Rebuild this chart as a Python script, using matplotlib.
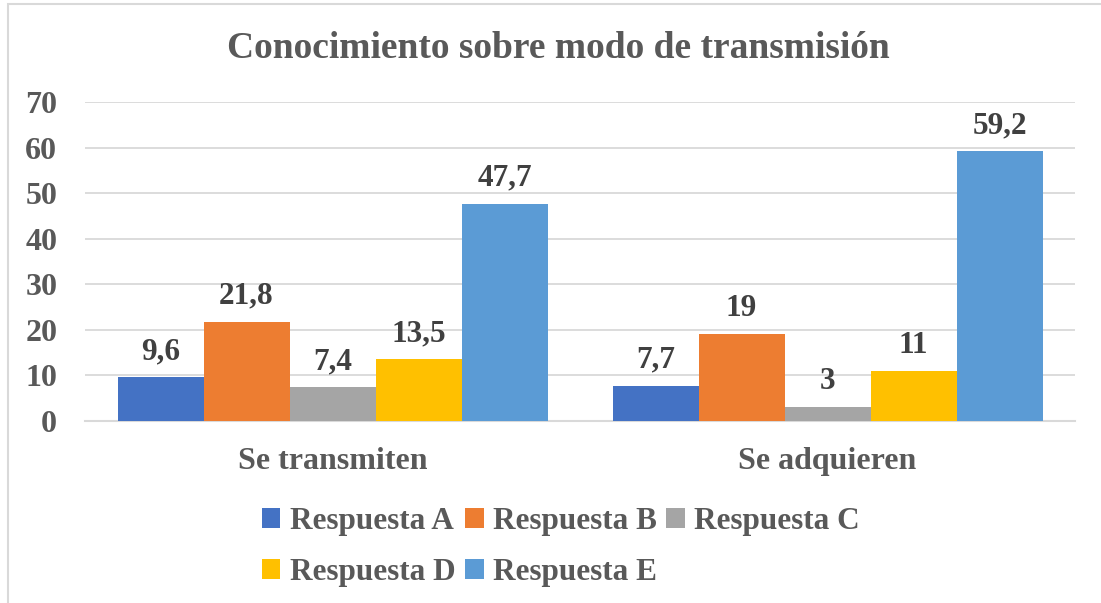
import matplotlib
matplotlib.use("Agg")
import matplotlib.pyplot as plt
from matplotlib.patches import Rectangle, Patch
import numpy as np

categories = ["Se transmiten", "Se adquieren"]
series_names = ["Respuesta A", "Respuesta B", "Respuesta C", "Respuesta D", "Respuesta E"]
resp_a = [9.6, 7.7]
resp_b = [21.8, 19]
resp_c = [7.4, 3]
resp_d = [13.5, 11]
resp_e = [47.7, 59.2]
label_a = ["9,6", "7,7"]
label_b = ["21,8", "19"]
label_c = ["7,4", "3"]
label_d = ["13,5", "11"]
label_e = ["47,7", "59,2"]
yticks = [0, 10, 20, 30, 40, 50, 60, 70]
title = "Conocimiento sobre modo de transmisión"

colors = ["#4472C4", "#ED7D31", "#A5A5A5", "#FFC000", "#5B9BD5"]
values = [resp_a, resp_b, resp_c, resp_d, resp_e]
labels = [label_a, label_b, label_c, label_d, label_e]

plt.rcParams['font.family'] = ['Liberation Serif', 'DejaVu Serif']
plt.rcParams['font.weight'] = 'bold'

W, H = 1101, 603
fig = plt.figure(figsize=(W / 100, H / 100), dpi=100)
ax = fig.add_axes([85 / W, 1 - 421 / H, (1075 - 85) / W, (421 - 102) / H])

# chart border
fig.patches.append(Rectangle((8 / W, -0.1), 1.2, 1 - 4 / H + 0.1, transform=fig.transFigure,
                             fill=False, edgecolor="#D9D9D9", linewidth=1.5, zorder=0))

x = np.arange(len(categories))
n = len(series_names)
bw = 430 / 495 / n
text_col = "#595959"
lab_col = "#404040"
for i, (name, vals, labs, c) in enumerate(zip(series_names, values, labels, colors)):
    pos = x - 430 / 495 / 2 + bw * (i + 0.5)
    bars = ax.bar(pos, vals, width=bw, color=c, label=name, zorder=3)
    ax.bar_label(bars, labels=labs, padding=8, fontsize=22.5, fontweight='bold', color=lab_col)

ax.set_xlim(-0.5, 1.5)
ax.set_ylim(0, 70)
ax.set_yticks(yticks)
ax.set_yticklabels([str(v) for v in yticks])
ax.set_xticks(x)
ax.set_xticklabels(categories)
ax.tick_params(axis='y', length=0, pad=20, labelsize=23, labelcolor=text_col)
ax.tick_params(axis='x', length=0, pad=19, labelsize=23, labelcolor=text_col)
for lab in ax.get_yticklabels() + ax.get_xticklabels():
    lab.set_fontweight('bold')
ax.yaxis.grid(True, color="#D9D9D9", linewidth=1.3, zorder=0)
ax.set_axisbelow(True)
for s in ["top", "right", "left"]:
    ax.spines[s].set_visible(False)
ax.spines["bottom"].set_color("#D9D9D9")
ax.spines["bottom"].set_linewidth(1.5)

fig.text(558 / W, 1 - 49 / H, title, ha='center', va='center', fontsize=27,
         fontweight='bold', color=text_col)

handles = [Patch(facecolor=c, label=nm) for c, nm in zip(colors, series_names)]
order = [0, 3, 1, 4, 2]
leg = fig.legend([handles[k] for k in order], [series_names[k] for k in order], ncol=3,
                 loc='upper left', bbox_to_anchor=(246 / W, 1 - 491 / H), frameon=False,
                 handlelength=0.6, handleheight=0.6, handletextpad=0.3,
                 columnspacing=0.3, labelspacing=0.72, borderpad=0, labelcolor=text_col,
                 prop={'weight': 'bold', 'size': 22.5})

fig.savefig("out.png", dpi=100)
